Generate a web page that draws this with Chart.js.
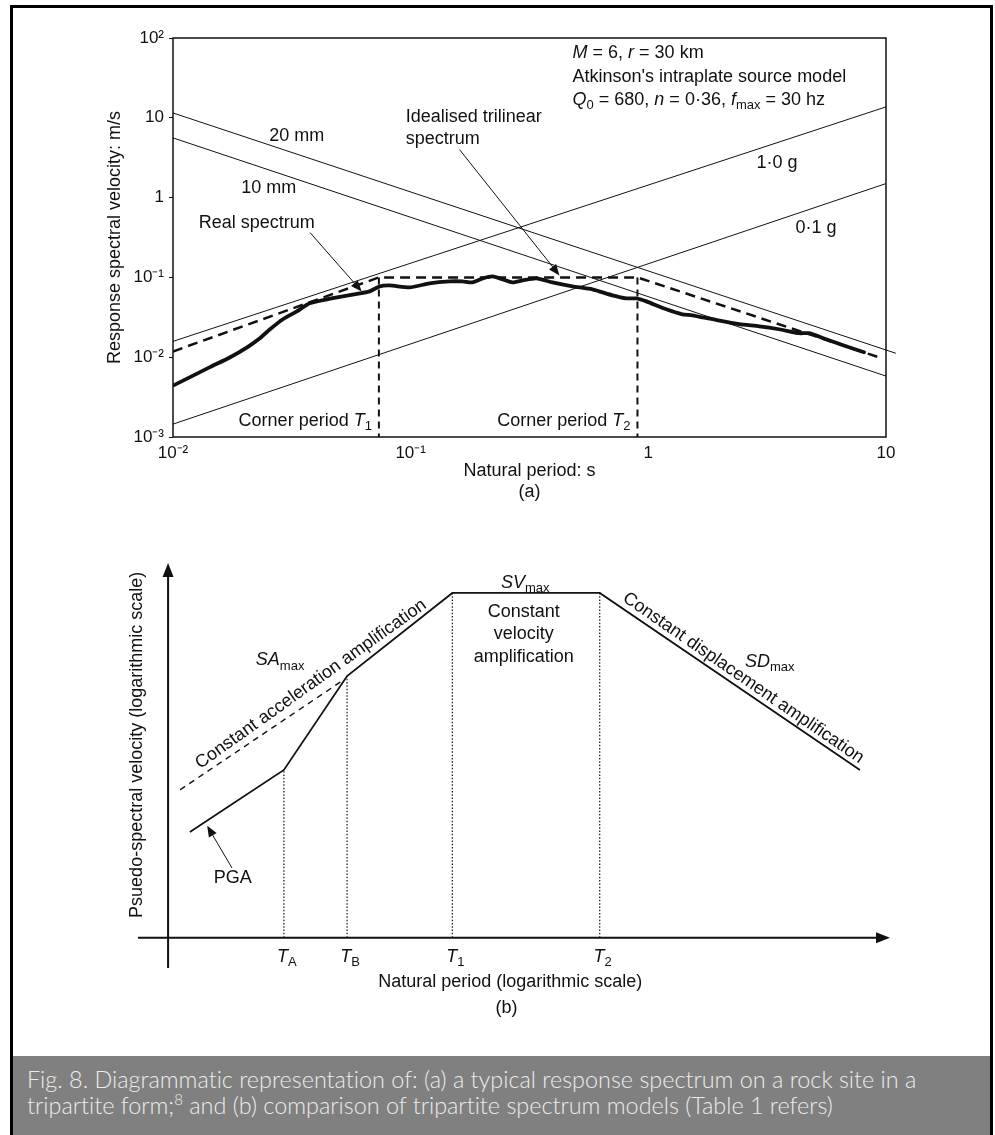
<!DOCTYPE html>
<html>
<head>
<meta charset="utf-8">
<script src="https://cdn.jsdelivr.net/npm/chart.js@4.4.0/dist/chart.umd.min.js"></script>
<style>
  body { margin:0; background:#fff; width:995px; height:1135px; overflow:hidden; position:relative; }
  #frame { position:absolute; left:10px; top:5px; width:983px; height:1140px; border:3px solid #000; border-bottom:none; box-sizing:border-box; }
  canvas { position:absolute; left:0; }
  #caption { position:absolute; left:13px; top:1056px; width:977px; height:79px; background:#808080; color:#ececec;
    font-family: Lato, "Open Sans", sans-serif; font-weight:300; font-size:23.4px; line-height:26px; padding:10px 0 0 14px;
    box-sizing:border-box; font-variant-ligatures:none; }
  #caption sup { font-size:15px; line-height:0; }
</style>
</head>
<body>
<div id="frame"></div>
<canvas id="specA" width="995" height="510" style="top:0"></canvas>
<canvas id="specB" width="995" height="530" style="top:520px"></canvas>
<div id="caption">Fig. 8. Diagrammatic representation of: (a) a typical response spectrum on a rock site in a<br>tripartite form;<sup>8</sup> and (b) comparison of tripartite spectrum models (Table 1 refers)</div>
<script>
// ---- (a) tripartite response spectrum ----
var periodTicks = [0.01, 0.1, 1, 10];
var periodTickLabels = ['10⁻²', '10⁻¹', '1', '10'];
var velocityTicks = [0.001, 0.01, 0.1, 1, 10, 100];
var velocityTickLabels = ['10⁻³', '10⁻²', '10⁻¹', '1', '10', '10²'];

var realPeriod = [0.0101, 0.0118, 0.0143, 0.0174, 0.0205, 0.0232, 0.0256, 0.029, 0.0332, 0.0376, 0.0444, 0.0518,
  0.0611, 0.0672, 0.0741, 0.0816, 0.099, 0.12, 0.146, 0.165, 0.182, 0.201, 0.221, 0.244, 0.268, 0.296, 0.338,
  0.395, 0.48, 0.582, 0.706, 0.808, 0.89, 0.981, 1.19, 1.39, 1.53, 1.86, 2.41, 2.93, 3.55, 4.31, 4.75, 5.6, 6.79, 8.08];
var realVelocity = [0.00447, 0.00562, 0.0075, 0.01, 0.0133, 0.0173, 0.0224, 0.0299, 0.0376, 0.0473, 0.0531, 0.0579,
  0.0631, 0.0668, 0.0772, 0.0794, 0.075, 0.0841, 0.0891, 0.0891, 0.0866, 0.0972, 0.1029, 0.0944, 0.0866, 0.0917, 0.0972,
  0.0866, 0.0772, 0.0708, 0.0596, 0.0546, 0.0546, 0.0501, 0.0398, 0.0345, 0.0335, 0.0299, 0.0259, 0.0244, 0.0224, 0.02, 0.02, 0.0168, 0.0137, 0.01155];

var trilinearPeriod = [0.01, 0.0735, 0.9, 9.5];
var trilinearVelocity = [0.0118, 0.1, 0.1, 0.0098];
var cornerPeriods = [0.0735, 0.9];
var cornerRange = [0.1, 0.001];

var disp20Period = [0.01, 11];
var disp20Velocity = [11.5, 0.0112];
var disp10Period = [0.01, 10];
var disp10Velocity = [5.6, 0.0058];
var acc10Period = [0.01, 10];
var acc10Velocity = [0.0158, 13.7];
var acc01Period = [0.01, 10];
var acc01Velocity = [0.00145, 1.5];

// ---- (b) schematic model, arbitrary units (x: log period, y: log velocity) ----
var modelX = [2.9, 15.4, 23.8, 37.8, 57.4, 92.0];
var modelY = [26.1, 41.4, 64.6, 85.1, 85.1, 41.4];
var accExtX = [1.6, 23.3];
var accExtY = [36.5, 63.6];
var cornerX = [15.4, 23.8, 37.8, 57.4];
var cornerTop = [41.4, 64.6, 85.1, 85.1];
var cornerNames = ['A', 'B', '1', '2'];

var FAM = '"Liberation Sans", Arial, sans-serif';
var INK = '#111';

function pts(xs, ys) { return xs.map(function (v, i) { return { x: v, y: ys[i] }; }); }
function line(xs, ys, opts) {
  return Object.assign({ data: pts(xs, ys), showLine: true, pointRadius: 0, borderColor: INK, borderWidth: 1,
    fill: false, tension: 0 }, opts || {});
}

// text with *italic* and {subscript} runs
function parseRuns(s) {
  var out = [];
  s.replace(/\*([^*]+)\*|\{([^}]+)\}|([^*{]+)/g, function (m, it, sub, pl) {
    if (it) out.push({ t: it, i: true });
    else if (sub) out.push({ t: sub, sub: true });
    else out.push({ t: pl });
  });
  return out;
}
function drawRuns(ctx, s, x, y, align, size) {
  var runs = parseRuns(s);
  var fontOf = function (r) { return (r.i ? 'italic ' : '') + (r.sub ? Math.round(size * 0.72) : size) + 'px ' + FAM; };
  var w = 0;
  runs.forEach(function (r) { ctx.font = fontOf(r); w += ctx.measureText(r.t).width; });
  var cx = align === 'center' ? x - w / 2 : align === 'right' ? x - w : x;
  ctx.textAlign = 'left';
  ctx.textBaseline = 'middle';
  runs.forEach(function (r) {
    ctx.font = fontOf(r);
    ctx.fillText(r.t, cx, y + (r.sub ? size * 0.32 : 0));
    cx += ctx.measureText(r.t).width;
  });
}
function drawArrow(ctx, x1, y1, x2, y2, len, half) {
  var a = Math.atan2(y2 - y1, x2 - x1);
  ctx.beginPath();
  ctx.moveTo(x1, y1);
  ctx.lineTo(x2 - Math.cos(a) * len * 0.8, y2 - Math.sin(a) * len * 0.8);
  ctx.stroke();
  ctx.beginPath();
  ctx.moveTo(x2, y2);
  ctx.lineTo(x2 - Math.cos(a) * len - Math.sin(a) * half, y2 - Math.sin(a) * len + Math.cos(a) * half);
  ctx.lineTo(x2 - Math.cos(a) * len + Math.sin(a) * half, y2 - Math.sin(a) * len - Math.cos(a) * half);
  ctx.closePath();
  ctx.fill();
}

var labelsA = [
  { s: '20 mm', x: 0.0332, y: 5.96, a: 'center' },
  { s: '10 mm', x: 0.0253, y: 1.33, a: 'center' },
  { s: 'Real spectrum', x: 0.0225, y: 0.487, a: 'center' },
  { s: 'Idealised trilinear', x: 0.0953, y: 10.3, a: 'left' },
  { s: 'spectrum', x: 0.0953, y: 5.46, a: 'left' },
  { s: '1·0 g', x: 3.48, y: 2.74, a: 'center' },
  { s: '0·1 g', x: 5.08, y: 0.41, a: 'center' },
  { s: '*M* = 6, *r* = 30 km', x: 0.48, y: 64.9, a: 'left' },
  { s: "Atkinson's intraplate source model", x: 0.48, y: 32.5, a: 'left' },
  { s: '*Q*{0} = 680, *n* = 0·36, *f*{max} = 30 hz', x: 0.48, y: 16.8, a: 'left' }
];
var arrowsA = [
  { from: [0.0377, 0.365], to: [0.0622, 0.0668] },
  { from: [0.1607, 3.98], to: [0.4227, 0.106] }
];

var annotA = {
  id: 'annotA',
  afterDatasetsDraw: function (chart) {
    var ctx = chart.ctx, ca = chart.chartArea, x = chart.scales.x, y = chart.scales.y;
    ctx.save();
    ctx.strokeStyle = INK;
    ctx.fillStyle = INK;
    ctx.lineWidth = 1.5;
    ctx.strokeRect(ca.left, ca.top, ca.right - ca.left, ca.bottom - ca.top);
    labelsA.forEach(function (l) {
      drawRuns(ctx, l.s, x.getPixelForValue(l.x), y.getPixelForValue(l.y), l.a, 18);
    });
    cornerPeriods.forEach(function (p, i) {
      drawRuns(ctx, 'Corner period *T*{' + (i + 1) + '}', x.getPixelForValue(p) - 7, ca.bottom - 16, 'right', 18);
    });
    ctx.lineWidth = 1;
    arrowsA.forEach(function (ar) {
      drawArrow(ctx, x.getPixelForValue(ar.from[0]), y.getPixelForValue(ar.from[1]),
        x.getPixelForValue(ar.to[0]), y.getPixelForValue(ar.to[1]), 11, 4.5);
    });
    ctx.restore();
  }
};

new Chart(document.getElementById('specA'), {
  type: 'scatter',
  data: {
    datasets: [
      line(disp20Period, disp20Velocity, { clip: false }),
      line(disp10Period, disp10Velocity),
      line(acc10Period, acc10Velocity),
      line(acc01Period, acc01Velocity),
      line(trilinearPeriod, trilinearVelocity, { borderWidth: 2.5, borderDash: [10, 6] })
    ].concat(cornerPeriods.map(function (p) {
      return line([p, p], cornerRange, { borderWidth: 2, borderDash: [7, 5] });
    })).concat([
      line(realPeriod, realVelocity, { borderWidth: 3.8, tension: 0.2, borderCapStyle: 'round', borderJoinStyle: 'round' })
    ])
  },
  options: {
    responsive: false,
    animation: false,
    layout: { padding: { left: 100, right: 109, top: 38, bottom: 0 } },
    plugins: { legend: { display: false }, tooltip: { enabled: false } },
    scales: {
      x: {
        type: 'logarithmic', min: 0.01, max: 10,
        afterBuildTicks: function (s) { s.ticks = periodTicks.map(function (v) { return { value: v }; }); },
        afterFit: function (s) { s.height = 73; },
        ticks: { callback: function (v, i) { return periodTickLabels[i]; }, font: { family: FAM, size: 17 },
          color: INK, padding: 6, maxRotation: 0, autoSkip: false },
        grid: { display: false, drawTicks: false },
        border: { display: false },
        title: { display: true, text: ['Natural period: s', '(a)'], color: INK, font: { family: FAM, size: 18 },
          padding: { top: 0, bottom: 7 } }
      },
      y: {
        type: 'logarithmic', min: 0.001, max: 100,
        afterBuildTicks: function (s) { s.ticks = velocityTicks.map(function (v) { return { value: v }; }); },
        afterFit: function (s) { s.width = 73; },
        ticks: { callback: function (v, i) { return velocityTickLabels[i]; }, font: { family: FAM, size: 17 },
          color: INK, padding: 5, autoSkip: false },
        grid: { display: true, drawOnChartArea: false, drawTicks: true, tickLength: 4, color: INK },
        border: { display: false },
        title: { display: true, text: 'Response spectral velocity: m/s', color: INK, font: { family: FAM, size: 18 },
          padding: { top: 4, bottom: 0 } }
      }
    }
  },
  plugins: [annotA]
});

// ---- (b) ----
var labelsB = [
  { s: '*SA*{max}', x: 14.9, y: 68.5 },
  { s: '*SV*{max}', x: 47.5, y: 87.6 },
  { s: 'Constant', x: 47.3, y: 80.4 },
  { s: 'velocity', x: 47.3, y: 75.0 },
  { s: 'amplification', x: 47.3, y: 69.3 },
  { s: '*SD*{max}', x: 80.0, y: 68.1 },
  { s: 'PGA', x: 8.6, y: 14.7 },
  { s: 'Natural period (logarithmic scale)', x: 45.5, y: -11.0 },
  { s: '(b)', x: 45.0, y: -17.4 }
];
var rotatedB = [
  { s: 'Psuedo-spectral velocity (logarithmic scale)', x: -4.13, y: 47.6, deg: -90 },
  { s: 'Constant acceleration amplification', x: 19.0, y: 62.6, deg: -35.5 },
  { s: 'Constant displacement amplification', x: 76.5, y: 64.1, deg: 34.5 }
];

var annotB = {
  id: 'annotB',
  afterDatasetsDraw: function (chart) {
    var ctx = chart.ctx, x = chart.scales.x, y = chart.scales.y;
    var x0 = x.getPixelForValue(0), y0 = y.getPixelForValue(0);
    var yTop = y.getPixelForValue(y.max), yBot = y.getPixelForValue(y.min);
    var xL = x.getPixelForValue(x.min), xR = x.getPixelForValue(x.max);
    ctx.save();
    ctx.strokeStyle = INK;
    ctx.fillStyle = INK;
    ctx.lineWidth = 2;
    drawArrow(ctx, x0, yBot, x0, yTop, 14, 5.5);
    drawArrow(ctx, xL, y0, xR, y0, 14, 5.5);
    ctx.lineWidth = 1;
    drawArrow(ctx, x.getPixelForValue(8.5), y.getPixelForValue(17.2), x.getPixelForValue(5.2), y.getPixelForValue(27.6), 11, 4.5);
    labelsB.forEach(function (l) {
      drawRuns(ctx, l.s, x.getPixelForValue(l.x), y.getPixelForValue(l.y), 'center', 18);
    });
    cornerX.forEach(function (c, i) {
      drawRuns(ctx, '*T*{' + cornerNames[i] + '}', x.getPixelForValue(c) + 3, y.getPixelForValue(-4.8), 'center', 18);
    });
    rotatedB.forEach(function (l) {
      ctx.save();
      ctx.translate(x.getPixelForValue(l.x), y.getPixelForValue(l.y));
      ctx.rotate(l.deg * Math.PI / 180);
      drawRuns(ctx, l.s, 0, 0, 'center', 18);
      ctx.restore();
    });
    ctx.restore();
  }
};

new Chart(document.getElementById('specB'), {
  type: 'scatter',
  data: {
    datasets: [
      line(modelX, modelY, { borderWidth: 1.8 }),
      line(accExtX, accExtY, { borderWidth: 1.4, borderDash: [6, 5] })
    ].concat(cornerX.map(function (c, i) {
      return line([c, c], [0, cornerTop[i]], { borderWidth: 1.2, borderDash: [1.5, 1.8] });
    }))
  },
  options: {
    responsive: false,
    animation: false,
    layout: { padding: { left: 138, right: 105, top: 43, bottom: 82 } },
    plugins: { legend: { display: false }, tooltip: { enabled: false } },
    scales: {
      x: { type: 'linear', display: false, min: -4, max: 96 },
      y: { type: 'linear', display: false, min: -7.5, max: 92.5 }
    }
  },
  plugins: [annotB]
});
</script>
</body>
</html>
